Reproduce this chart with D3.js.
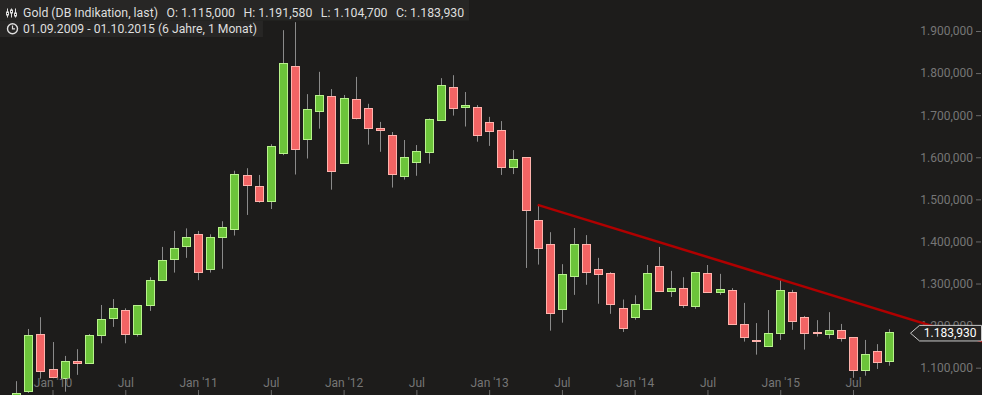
<!DOCTYPE html>
<html><head><meta charset="utf-8">
<script src="https://cdn.jsdelivr.net/npm/d3@7"></script>
<style>
html,body{margin:0;padding:0;background:#1d1c1b;overflow:hidden}
svg{display:block;font-family:Roboto,"Liberation Sans",sans-serif}
</style></head><body><svg id="chart" width="982" height="395"></svg>
<script>
const months = ["2009-09","2009-10","2009-11","2009-12",
"2010-01","2010-02","2010-03","2010-04","2010-05","2010-06","2010-07","2010-08","2010-09","2010-10","2010-11","2010-12",
"2011-01","2011-02","2011-03","2011-04","2011-05","2011-06","2011-07","2011-08","2011-09","2011-10","2011-11","2011-12",
"2012-01","2012-02","2012-03","2012-04","2012-05","2012-06","2012-07","2012-08","2012-09","2012-10","2012-11","2012-12",
"2013-01","2013-02","2013-03","2013-04","2013-05","2013-06","2013-07","2013-08","2013-09","2013-10","2013-11","2013-12",
"2014-01","2014-02","2014-03","2014-04","2014-05","2014-06","2014-07","2014-08","2014-09","2014-10","2014-11","2014-12",
"2015-01","2015-02","2015-03","2015-04","2015-05","2015-06","2015-07","2015-08","2015-09","2015-10"];
const opens  = [953,1001,1044,1179, 1098,1076,1115,1110,1177,1219,1236,1179,1248,1308,1359,1390,
 1417,1335,1411,1430,1557,1531,1497,1611,1816,1643,1709,1745,
 1586,1738,1716,1669,1654,1556,1589,1613,1688,1766,1720,1719,
 1683,1664,1578,1600,1452,1395,1240,1319,1393,1334,1324,1243,
 1220,1240,1341,1283,1289,1246,1324,1280,1284,1205,1167,1151,
 1182,1279,1220,1186,1179,1189,1172,1094,1139,1115];
const highs  = [1025,1068,1192,1220, 1161,1128,1144,1180,1249,1263,1241,1248,1315,1387,1425,1431,
 1425,1417,1448,1568,1574,1558,1631,1902,1921,1750,1803,1762,
 1748,1791,1727,1684,1660,1641,1629,1692,1788,1795,1755,1724,
 1696,1686,1617,1600,1486,1422,1346,1432,1415,1361,1327,1262,
 1272,1344,1387,1330,1315,1328,1344,1323,1289,1254,1206,1237,
 1308,1285,1223,1213,1232,1204,1172,1166,1156,1191.58];
const lows   = [931,1000,1040,1074, 1075,1043,1083,1110,1158,1197,1158,1174,1235,1308,1326,1361,
 1308,1326,1335,1414,1463,1492,1477,1605,1559,1597,1668,1523,
 1586,1690,1630,1613,1528,1547,1556,1585,1688,1699,1673,1637,
 1627,1558,1560,1337,1345,1188,1207,1273,1297,1252,1228,1185,
 1214,1240,1280,1268,1242,1240,1281,1273,1204,1162,1131,1150,
 1166,1190,1143,1174,1169,1162,1076,1081,1097,1104.7];
const closes = [1001,1041,1177,1091, 1078,1115,1110,1177,1215,1241,1179,1248,1308,1355,1384,1410,
 1328,1410,1434,1561,1533,1497,1626,1823,1620,1714,1747,1567,
 1740,1693,1669,1665,1561,1600,1614,1690,1771,1718,1723,1654,
 1663,1578,1595,1475,1385,1231,1322,1395,1327,1322,1251,1194,
 1251,1324,1283,1289,1250,1327,1281,1286,1204,1172,1164,1182,
 1284,1210,1182,1182,1189,1170,1094,1132,1113,1183.93];
const xTickMonths = ["2010-01","2010-07","2011-01","2011-07","2012-01","2012-07","2013-01","2013-07","2014-01","2014-07","2015-01","2015-07"];
const yTickValues = [1100,1200,1300,1400,1500,1600,1700,1800,1900];
const trendMonths = ["2013-05","2015-01"];
const trendValues = [1487,1310];
const titleText = "Gold (DB Indikation, last)";
const rangeText = "01.09.2009 - 01.10.2015 (6 Jahre, 1 Monat)";

const W = 982, H = 395;
const de = d3.formatLocale({decimal:",", thousands:".", grouping:[3], currency:["","€"]});
const fmt = de.format(",.3f");
const data = months.map((m,i)=>({m, o:opens[i], h:highs[i], l:lows[i], c:closes[i]}));

const svg = d3.select("#chart");
const x = d3.scalePoint().domain(months).range([4, 889.4]);
const y = d3.scaleLinear().domain([1100,1900]).range([367.7, 31]);

// Y axis (labels first, trendline overdraws)
const yAxis = svg.append("g").attr("transform", `translate(${W-1},0)`)
  .call(d3.axisLeft(y).tickValues(yTickValues).tickSize(5).tickPadding(3).tickFormat(fmt));
yAxis.select(".domain").remove();
yAxis.selectAll("line").attr("stroke","#6a6a6a");
yAxis.selectAll("text").attr("fill","#767676").style("font-size","12px").style("font-family","Roboto, sans-serif");

// candles
const cg = svg.append("g");
const px = d => Math.round(x(d.m));
cg.selectAll("line.wick").data(data).join("line").attr("class","wick")
  .attr("x1", d=>px(d)+0.5).attr("x2", d=>px(d)+0.5)
  .attr("y1", d=>y(d.h)).attr("y2", d=>y(d.l))
  .attr("stroke","#8a8a8a").attr("stroke-width",1);
cg.selectAll("rect.body").data(data).join("rect").attr("class","body")
  .attr("x", d=>px(d)-3.5).attr("width", 8)
  .attr("y", d=>Math.round(y(Math.max(d.o,d.c)))+0.5)
  .attr("height", d=>Math.max(1, Math.round(y(Math.min(d.o,d.c))) - Math.round(y(Math.max(d.o,d.c)))))
  .attr("fill", d=> d.c>=d.o ? "#6cc43a" : "#f26464")
  .attr("stroke", d=> d.c>=d.o ? "#b8f28c" : "#ffb3ad")
  .attr("stroke-width",1);

// X axis
const xAxis = svg.append("g").attr("transform", `translate(0,390)`)
  .call(d3.axisTop(x).tickValues(xTickMonths).tickSize(-5).tickPadding(3)
    .tickFormat(m => m.endsWith("-01") ? "Jan '" + m.slice(2,4) : "Jul"));
xAxis.select(".domain").remove();
xAxis.selectAll("line").attr("stroke","#6a6a6a");
xAxis.selectAll("text").attr("fill","#767676").style("font-size","12px").style("font-family","Roboto, sans-serif");

// trendline
const x1 = x(trendMonths[0]), y1 = y(trendValues[0]);
const x2 = x(trendMonths[1]), y2 = y(trendValues[1]);
const slope = (y2-y1)/(x2-x1);
svg.append("line").attr("x1",x1).attr("y1",y1).attr("x2",W).attr("y2",y1+slope*(W-x1))
  .attr("stroke","#b00000").attr("stroke-width",2.5);

// last price label
const last = data[data.length-1];
const yy = y(last.c) + 0.8;
svg.append("path")
  .attr("d", `M910.5,${yy} L919.5,${yy-7.8} L981.5,${yy-7.8} L981.5,${yy+7.8} L919.5,${yy+7.8} Z`)
  .attr("fill","#252423").attr("stroke","#c8c8c8").attr("stroke-width",1);
svg.append("text").attr("x",976.5).attr("y",yy).attr("dy","0.35em").attr("text-anchor","end")
  .attr("fill","#ffffff").style("font-size","12px").text(fmt(last.c));

// header
const hg = svg.append("g");
const box1 = hg.append("rect").attr("x",0).attr("y",0).attr("height",20.5).attr("fill","#272625");
const box2 = hg.append("rect").attr("x",0).attr("y",20.5).attr("height",16.5).attr("fill","#272625");
const parts = [titleText, "O: "+fmt(last.o), "H: "+fmt(last.h), "L: "+fmt(last.l), "C: "+fmt(last.c)];
let cx = 23;
parts.forEach((p,i)=>{
  const t = hg.append("text").attr("x",cx).attr("y",17.3).attr("fill","#dedede").style("font-size","12.3px").text(p);
  cx += t.node().getComputedTextLength() + 8.5;
});
box1.attr("width", cx - 8.5 + 5);
const t2 = hg.append("text").attr("x",23).attr("y",33).attr("fill","#dedede").style("font-size","12.2px").text(rangeText);
box2.attr("width", 23 + t2.node().getComputedTextLength() + 6);
// icon 1 (candles)
[0,1,2].forEach(i=>{
  hg.append("line").attr("x1",7.5+i*4).attr("x2",7.5+i*4).attr("y1",8.5).attr("y2",17.5).attr("stroke","#dedede").attr("stroke-width",1);
  hg.append("rect").attr("x",6.5+i*4).attr("y",[12,10,13][i]).attr("width",2).attr("height",3).attr("fill","#1d1c1b").attr("stroke","#dedede").attr("stroke-width",1);
});
// icon 2 (clock)
hg.append("circle").attr("cx",12.5).attr("cy",28.7).attr("r",5).attr("fill","none").attr("stroke","#dedede").attr("stroke-width",1.4);
hg.append("path").attr("d","M12.5,25.5 L12.5,28.9 L15,28.9").attr("fill","none").attr("stroke","#dedede").attr("stroke-width",1.2);
</script></body></html>
